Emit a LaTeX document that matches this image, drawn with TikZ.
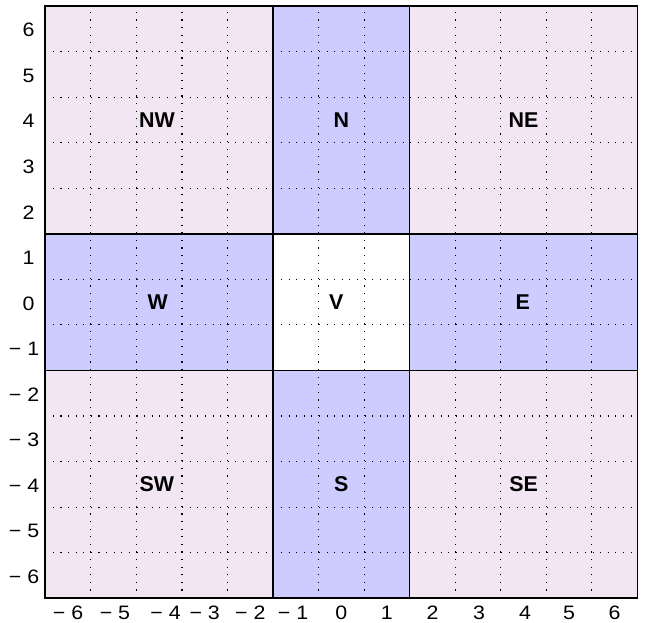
\documentclass[tikz,border=0pt]{standalone}
\usepackage{fontspec}
\setmainfont{Liberation Sans}
\newfontfamily\tickfont[FakeStretch=1.1]{Liberation Sans}
\definecolor{pinkc}{RGB}{242,230,242}
\definecolor{bluec}{RGB}{204,204,255}
\begin{document}
\begin{tikzpicture}[x=45.55bp,y=45.55bp,
  gridline/.style={line width=1.15bp, dash pattern=on 1.15bp off 6.45bp, black},
  regline/.style={line width=1.5bp, black},
  frameline/.style={line width=1.8bp, black},
  ticklab/.style={font=\tickfont\fontsize{19.5}{22}\selectfont, inner sep=0pt, text depth=0pt},
  reglab/.style={font=\fontsize{21.5}{24}\selectfont\bfseries, inner sep=0pt}]
\useasboundingbox (-7.4945,-7.045) rectangle (6.6875,6.632);
\fill[pinkc] (-6.5,-6.5) rectangle (6.5,6.5);
\fill[bluec] (-1.5,-6.5) rectangle (1.5,6.5);
\fill[bluec] (-6.5,-1.5) rectangle (6.5,1.5);
\fill[white] (-1.5,-1.5) rectangle (1.5,1.5);
\foreach \v in {-5.5,-4.5,...,5.5} {
  \draw[gridline] (\v,-6.5) -- (\v,6.5);
  \draw[gridline] (-6.5,\v) -- (6.5,\v);
}
\draw[regline] (-1.5,-6.5) -- (-1.5,6.5);
\draw[regline] (1.5,-6.5) -- (1.5,6.5);
\draw[regline] (-6.5,-1.5) -- (6.5,-1.5);
\draw[regline] (-6.5,1.5) -- (6.5,1.5);
\draw[frameline] (-6.5,-6.5) rectangle (6.5,6.5);
% x tick labels
\foreach \i/\dx in {0/0,1/0,2/0,3/0.02,4/0.03,5/0,6/0} {
  \node[ticklab, anchor=base] (xp\i) at (\i+\dx,-6.975) {\i};
}
\foreach \i/\dx in {1/-0.06,2/0,3/0,4/0.14,5/0.03,6/0} {
  \node[ticklab, anchor=base] (xn\i) at (-\i+\dx,-6.975) {−\ \i};
}
% y tick labels
\foreach \i in {0,...,6} {
  \node[ticklab, anchor=base east] (yp\i) at (-6.73,\i-0.176) {\i};
}
\foreach \i in {1,...,6} {
  \node[ticklab, anchor=base east] (yn\i) at (-6.63,-\i-0.176) {−\ \i};
}
\node[reglab] (NW) at (-4.05,4) {NW};
\node[reglab] (N) at (0,4) {N};
\node[reglab] (NE) at (4,4) {NE};
\node[reglab] (W) at (-4.03,0) {W};
\node[reglab] (V) at (-0.11,0) {V};
\node[reglab] (E) at (3.98,0) {E};
\node[reglab] (SW) at (-4.05,-4) {SW};
\node[reglab] (S) at (0,-4) {S};
\node[reglab] (SE) at (4,-4) {SE};
\end{tikzpicture}
\end{document}
